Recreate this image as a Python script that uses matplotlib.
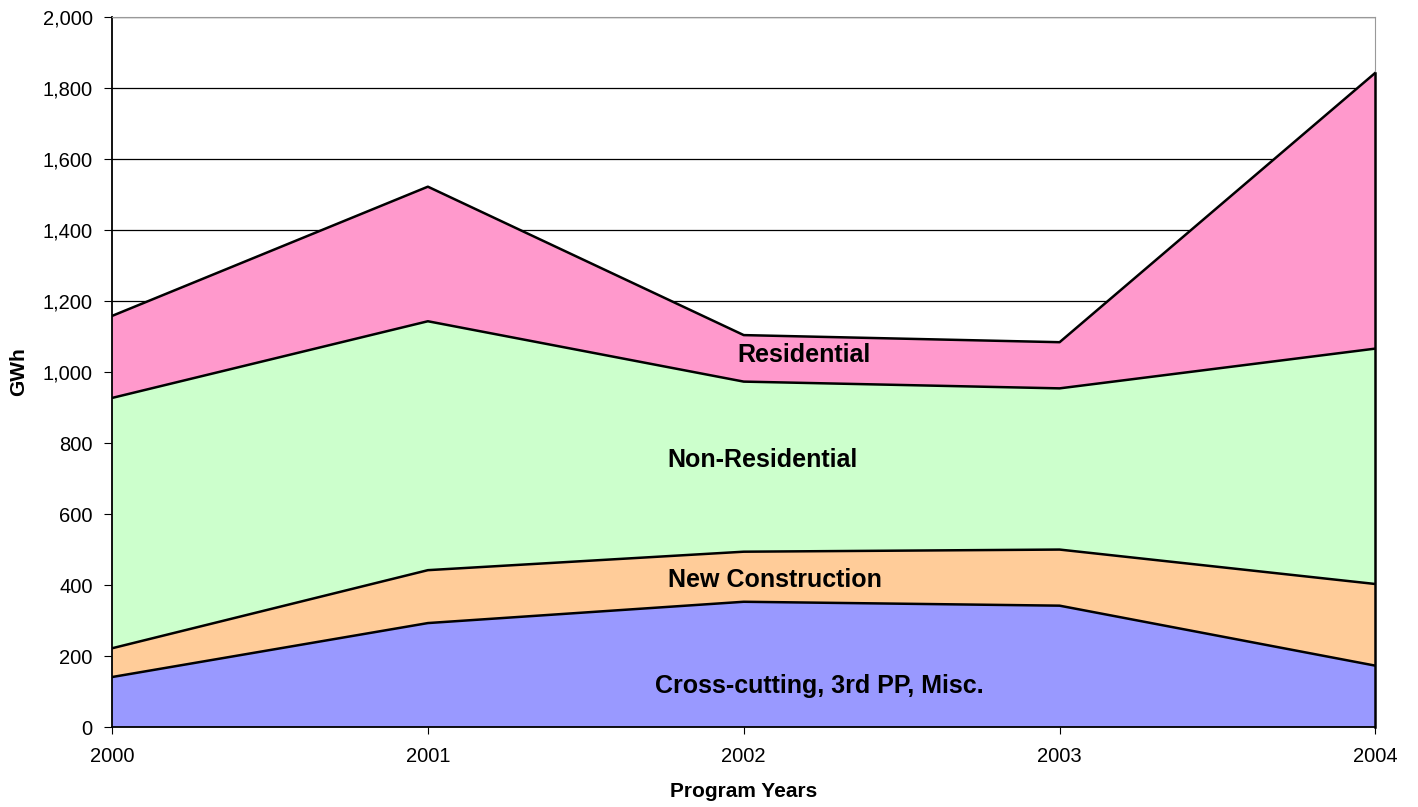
import matplotlib.pyplot as plt
from matplotlib.ticker import FuncFormatter

plt.rcParams['font.family'] = ['Liberation Sans', 'DejaVu Sans']

# program years and GWh per sector
years = [2000, 2001, 2002, 2003, 2004]
cross_cutting = [141, 293, 353, 342, 173]
new_construction = [81, 149, 141, 158, 230]
non_residential = [705, 701, 479, 454, 663]
residential = [231, 379, 131, 130, 777]

labels = ['Cross-cutting, 3rd PP, Misc.', 'New Construction', 'Non-Residential', 'Residential']
colors = ['#9999FF', '#FFCC99', '#CCFFCC', '#FF99CC']

fig = plt.figure(figsize=(14.18, 8.07), dpi=100)
ax = fig.add_axes([0.079, 0.099, 0.891, 0.880])

series = [cross_cutting, new_construction, non_residential, residential]
base = [0] * len(years)
for vals, col in zip(series, colors):
    top = [b + v for b, v in zip(base, vals)]
    ax.fill_between(years, base, top, facecolor=col, edgecolor='none', zorder=2)
    ax.plot(years, top, color='black', linewidth=1.8, zorder=3)
    base = top

# closing edge of the stacked areas at the last year
ax.plot([years[-1], years[-1]], [0, base[-1]], color='black', linewidth=1.8, zorder=6, clip_on=False)

# text labels inside the areas
lbl = dict(ha='center', va='center', fontsize=18, fontweight='bold', zorder=4)
ax.text(2002.19, 1048, labels[3], **lbl)
ax.text(2002.06, 752, labels[2], **lbl)
ax.text(2002.10, 414, labels[1], **lbl)
ax.text(2002.24, 115, labels[0], **lbl)

ax.set_xlim(2000, 2004)
ax.set_ylim(0, 2000)
ax.set_xticks(years)
ax.set_yticks(range(0, 2001, 200))
ax.yaxis.set_major_formatter(FuncFormatter(lambda v, p: f"{int(v):,}"))
ax.grid(axis='y', color='black', linewidth=0.9, zorder=1)
ax.set_axisbelow(True)
ax.tick_params(axis='x', direction='out', length=5, pad=9, labelsize=14.5, color='black')
ax.tick_params(axis='y', direction='out', length=6, pad=8, labelsize=14.5, color='black')

ax.spines['left'].set_color('black')
ax.spines['bottom'].set_color('black')
ax.spines['left'].set_linewidth(1.3)
ax.spines['bottom'].set_linewidth(1.3)
ax.spines['top'].set_color('#999999')
ax.spines['right'].set_color('#999999')
for s in ax.spines.values():
    s.set_zorder(5)

ax.set_xlabel('Program Years', fontsize=15, fontweight='bold', labelpad=12)
ax.set_ylabel('GWh', fontsize=15, fontweight='bold', labelpad=10)

fig.savefig('out.png', dpi=100)
